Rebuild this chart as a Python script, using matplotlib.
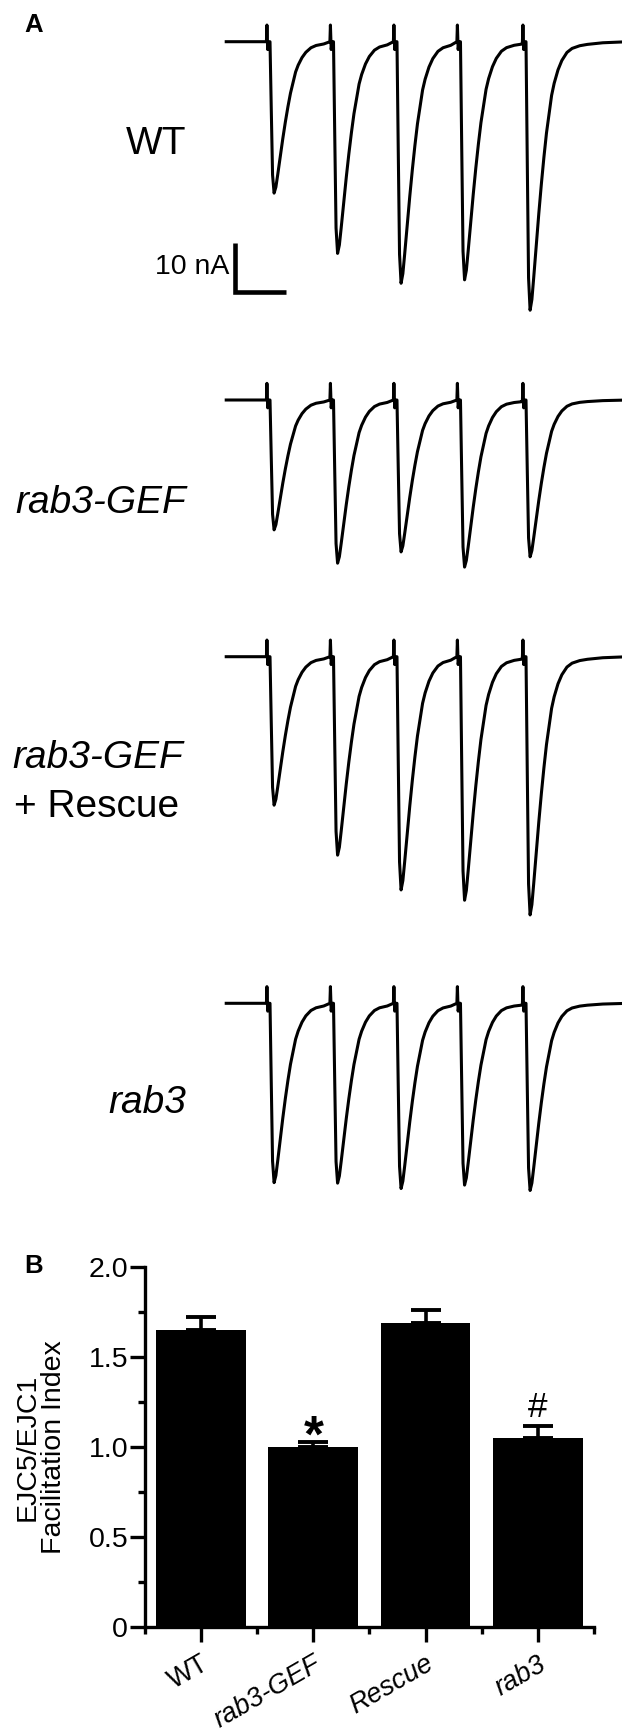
import matplotlib
matplotlib.use("Agg")
import numpy as np
import matplotlib.pyplot as plt
import matplotlib.transforms as mtransforms
from matplotlib.textpath import TextPath
from matplotlib.font_manager import FontProperties

plt.rcParams['font.family'] = ['Liberation Sans', 'DejaVu Sans']

W, H = 622, 1730

# ---- panel A: example EJC trains (nA) ----
stim_times = [0, 24.8, 49.6, 74.4, 100.0]   # ms
ejc_wt = [30.9, 43.2, 49.3, 48.6, 54.8]
ejc_gef = [26.5, 33.3, 31.0, 34.1, 32.0]
ejc_rescue = [30.3, 40.5, 47.6, 49.7, 52.7]
ejc_rab3 = [36.6, 36.7, 37.8, 37.1, 38.2]

# one EJC, normalised to its peak (ms after stimulus)
ejc_t = [-1.4, -1.2, -0.9, -0.5, 0.0, 0.5, 1.0, 1.6, 2.3, 3.0, 4.0, 5.0, 6.0,
         7.0, 8.0, 9.0, 10.0, 11.0, 12.5, 14.0, 16.0, 18.0, 21.0, 24.0, 30.0, 40.0]
ejc_shape = [0, 0, 0, 0, 0, 0.45, 0.88, 1.0, 0.96, 0.88, 0.76, 0.64, 0.53,
             0.43, 0.34, 0.27, 0.20, 0.155, 0.105, 0.07, 0.04, 0.025, 0.015, 0.01, 0.004, 0]
ejc_artifact = [0, 3.4, -1.6, 0, 0, 0, 0, 0, 0, 0, 0, 0, 0,
                0, 0, 0, 0, 0, 0, 0, 0, 0, 0, 0, 0, 0]
t_start = -17.1

# ---- panel B: facilitation index ----
bar_labels = ['WT', 'rab3-GEF', 'Rescue', 'rab3']
fi_mean = [1.65, 1.00, 1.69, 1.05]
fi_sem = [0.074, 0.03, 0.074, 0.069]
fi_marks = ['', '*', '', '#']


def fx(px):
    return px / W


def fy(py):
    return 1 - py / H


def build_trace(amps):
    t = [t_start]
    y = [0.0]
    for k in range(len(stim_times)):
        ts = stim_times[k]
        if k + 1 < len(stim_times):
            limit = stim_times[k + 1] - ts + ejc_t[0]
        else:
            limit = np.inf
        for dt, f, art in zip(ejc_t, ejc_shape, ejc_artifact):
            if dt < limit:
                t.append(ts + dt)
                y.append(-amps[k] * f + art)
    return t, y


fig = plt.figure(figsize=(W / 100, H / 100), dpi=100)

px_per_ms = 2.56
px_per_nA = 4.9
stim0_px = 270.0


def ms(px):
    return (px - stim0_px) / px_per_ms


traces = [ejc_wt, ejc_gef, ejc_rescue, ejc_rab3]
baselines = [41.7, 400, 656.7, 1003.3]
ymin, ymax = -60, 10
axes_a = []
for amps, b in zip(traces, baselines):
    top = b - ymax * px_per_nA
    bot = b - ymin * px_per_nA
    ax = fig.add_axes([0, fy(bot), 1, (bot - top) / H])
    ax.patch.set_alpha(0)
    t, y = build_trace(amps)
    ax.plot(t, y, color='black', lw=2.2, solid_joinstyle='round')
    ax.set_xlim(ms(0), ms(W))
    ax.set_ylim(ymin, ymax)
    ax.axis('off')
    axes_a.append(ax)

# scale bar (10 nA, 20 ms)
ax = axes_a[0]
x0 = ms(235)
ybot = -(291.7 - baselines[0]) / px_per_nA
ax.plot([x0, x0, x0 + 20], [ybot + 10, ybot, ybot], color='black', lw=3.3,
        solid_joinstyle='miter', solid_capstyle='butt')
ax.text(ms(229), ybot + 5, '10 nA', ha='right', va='center', fontsize=20.5)

fig.text(fx(24), fy(31.7), 'A', fontsize=18.5, weight='bold', ha='left', va='baseline')
fig.text(fx(186), fy(154), 'WT', fontsize=28, ha='right', va='baseline')
fig.text(fx(186), fy(513), 'rab3-GEF', fontsize=28, style='italic', ha='right', va='baseline')
fig.text(fx(98), fy(768), 'rab3-GEF', fontsize=28, style='italic', ha='center', va='baseline')
fig.text(fx(97), fy(817), '+ Rescue', fontsize=28, ha='center', va='baseline')
fig.text(fx(186), fy(1113), 'rab3', fontsize=28, style='italic', ha='right', va='baseline')

# ---- panel B ----
fig.text(fx(24), fy(1273.3), 'B', fontsize=18.5, weight='bold', ha='left', va='baseline')
axb = fig.add_axes([fx(144.8), fy(1626.7), (594 - 144.8) / W, (1626.7 - 1267.3) / H])
xpos = np.arange(len(bar_labels))
axb.bar(xpos, fi_mean, width=0.8, color='black', zorder=2)
axb.errorbar(xpos, fi_mean, yerr=[np.zeros(len(fi_sem)), fi_sem], fmt='none',
             ecolor='black', elinewidth=2.6, capsize=11, capthick=2.8, zorder=1)

# significance marks: glyph height (px) and gap above the error cap (px)
mark_style = {'*': dict(weight='bold', height=19, gap=15.8),
              '#': dict(weight='normal', height=24, gap=20.3)}
for i, m in enumerate(fi_marks):
    if not m:
        continue
    st = mark_style[m]
    prop = FontProperties(family='Liberation Sans', weight=st['weight'])
    ext = TextPath((0, 0), m, size=1, prop=prop).get_extents()
    fs = st['height'] * 0.72 / ext.height          # points
    centre = (ext.y0 + ext.y1) / 2 * fs            # points above baseline
    axb.annotate(m, (xpos[i], fi_mean[i] + fi_sem[i]), xytext=(0, st['gap'] * 0.72 - centre),
                 textcoords='offset points', ha='center', va='baseline',
                 fontsize=fs, weight=st['weight'])

axb.set_xlim(-0.5, 3.5)
axb.set_ylim(0, 2.0)
for s in ['top', 'right']:
    axb.spines[s].set_visible(False)
for s in ['left', 'bottom']:
    axb.spines[s].set_linewidth(2.4)
    axb.spines[s].set_capstyle('projecting')
axb.set_yticks([0, 0.5, 1.0, 1.5, 2.0])
axb.set_yticklabels(['0', '0.5', '1.0', '1.5', '2.0'], fontsize=20.5)
axb.set_yticks([0.25, 0.75, 1.25, 1.75], minor=True)
axb.set_xticks(xpos)
axb.set_xticks(np.arange(-0.5, 3.6, 1.0), minor=True)
axb.set_xticklabels(bar_labels, fontsize=19.5, rotation=30, ha='right',
                    rotation_mode='anchor')
shift = mtransforms.ScaledTranslation(6 / 100, 0, fig.dpi_scale_trans)
for j, lab in enumerate(axb.get_xticklabels()):
    if j > 0:
        lab.set_style('italic')
    lab.set_transform(lab.get_transform() + shift)
axb.tick_params(axis='y', which='major', direction='out', length=10.5, width=2.4, pad=1.5)
axb.tick_params(axis='x', which='major', direction='out', length=10.5, width=2.4, pad=7)
axb.tick_params(which='minor', direction='out', length=5, width=2.4)

fig.text(fx(28), fy(1447), 'EJC5/EJC1', rotation=90, ha='center', va='center', fontsize=20.5)
fig.text(fx(54.5), fy(1447), 'Facilitation Index', rotation=90, ha='center', va='center',
         fontsize=20.5)

fig.savefig('out.png', dpi=100)
